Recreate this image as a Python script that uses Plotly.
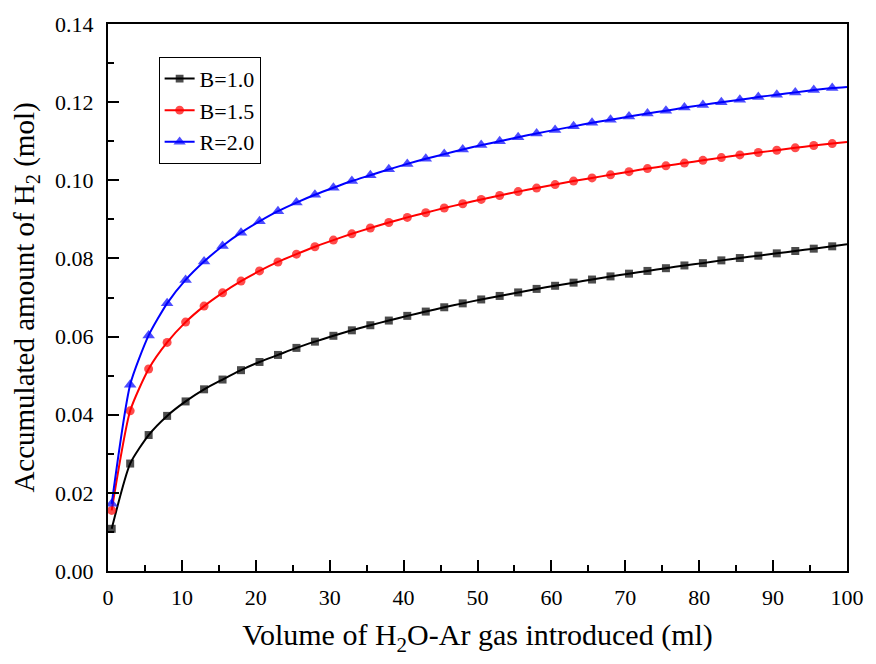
import plotly.graph_objects as go

# x positions of the sampled points (ml)
volume = [0.5, 3, 5.5, 8, 10.5, 13, 15.5, 18, 20.5, 23, 25.5, 28, 30.5, 33, 35.5, 38, 40.5,
          43, 45.5, 48, 50.5, 53, 55.5, 58, 60.5, 63, 65.5, 68, 70.5, 73, 75.5, 78, 80.5,
          83, 85.5, 88, 90.5, 93, 95.5, 98, 100]

b10 = [0.0108, 0.0275, 0.0348, 0.0397, 0.0434, 0.0465, 0.0490, 0.0514, 0.0535, 0.0553,
       0.0571, 0.0587, 0.0602, 0.0616, 0.0629, 0.0641, 0.0653, 0.0664, 0.0675, 0.0685,
       0.0695, 0.0704, 0.0713, 0.0722, 0.0730, 0.0738, 0.0746, 0.0754, 0.0761, 0.0768,
       0.0775, 0.0782, 0.0788, 0.0795, 0.0801, 0.0807, 0.0813, 0.0819, 0.0825, 0.0831, 0.0836]

b15 = [0.0155, 0.0410, 0.0517, 0.0585, 0.0637, 0.0678, 0.0712, 0.0742, 0.0768, 0.0791,
       0.0811, 0.0830, 0.0847, 0.0863, 0.0878, 0.0892, 0.0905, 0.0917, 0.0929, 0.0940,
       0.0951, 0.0961, 0.0971, 0.0980, 0.0989, 0.0998, 0.1006, 0.1014, 0.1022, 0.1030,
       0.1037, 0.1044, 0.1051, 0.1058, 0.1065, 0.1071, 0.1077, 0.1083, 0.1089, 0.1094, 0.1098]

r20 = [0.0172, 0.0477, 0.0603, 0.0685, 0.0745, 0.0792, 0.0832, 0.0866, 0.0895, 0.0921,
       0.0943, 0.0963, 0.0981, 0.0998, 0.1013, 0.1028, 0.1042, 0.1055, 0.1067, 0.1079,
       0.1090, 0.1100, 0.1110, 0.1120, 0.1129, 0.1138, 0.1147, 0.1155, 0.1163, 0.1171,
       0.1178, 0.1186, 0.1193, 0.1200, 0.1206, 0.1213, 0.1219, 0.1225, 0.1231, 0.1236, 0.1239]

series_names = ["B=1.0", "B=1.5", "R=2.0"]
series_values = [b10, b15, r20]
colors = ["#000000", "#FF0000", "#0000FF"]
symbols = ["square", "circle", "triangle-up"]
msizes = [8, 9, 11]

FONT = "Liberation Serif"

fig = go.Figure()
n = len(volume)
for name, vals, col, sym, ms in zip(series_names, series_values, colors, symbols, msizes):
    sizes = [ms] * (n - 1) + [0]  # last point (x=100) is a line end only
    fig.add_trace(go.Scatter(
        x=volume, y=vals, name=name, mode="lines+markers",
        line=dict(color=col, width=2, shape="spline", smoothing=0.6),
        marker=dict(symbol=sym, size=sizes, color=col, line=dict(width=0)),
    ))

axis_common = dict(
    showline=True, linecolor="black", linewidth=2, mirror=True,
    ticks="inside", tickcolor="black", tickwidth=1.5, ticklen=11,
    showgrid=False, zeroline=False,
    tickfont=dict(family=FONT, size=22, color="black"),
)

fig.update_xaxes(
    range=[0, 100], tick0=0, dtick=10,
    minor=dict(ticks="inside", dtick=5, ticklen=6, tickcolor="black", tickwidth=1.5, showgrid=False),
    title=dict(text="Volume of H<sub>2</sub>O-Ar gas introduced (ml)",
               font=dict(family=FONT, size=30, color="black"), standoff=15),
    ticklabelstandoff=6,
    **axis_common,
)
fig.update_yaxes(
    range=[0, 0.14], tick0=0, dtick=0.02, tickformat=".2f",
    minor=dict(ticks="inside", dtick=0.01, ticklen=6, tickcolor="black", tickwidth=1.5, showgrid=False),
    title=dict(text="Accumulated amount of H<sub>2</sub> (mol)",
               font=dict(family=FONT, size=29, color="black"), standoff=12),
    ticklabelstandoff=8,
    **axis_common,
)

fig.update_layout(
    width=876, height=664,
    margin=dict(l=108, r=24, t=21, b=93),
    paper_bgcolor="white", plot_bgcolor="white",
    font=dict(family=FONT, color="black"),
    legend=dict(
        x=0.0685, y=0.94, xanchor="left", yanchor="top",
        bgcolor="white", bordercolor="black", borderwidth=1,
        font=dict(family=FONT, size=22, color="black"),
        entrywidth=95,
    ),
    showlegend=True,
)

fig.write_html("out.html")
